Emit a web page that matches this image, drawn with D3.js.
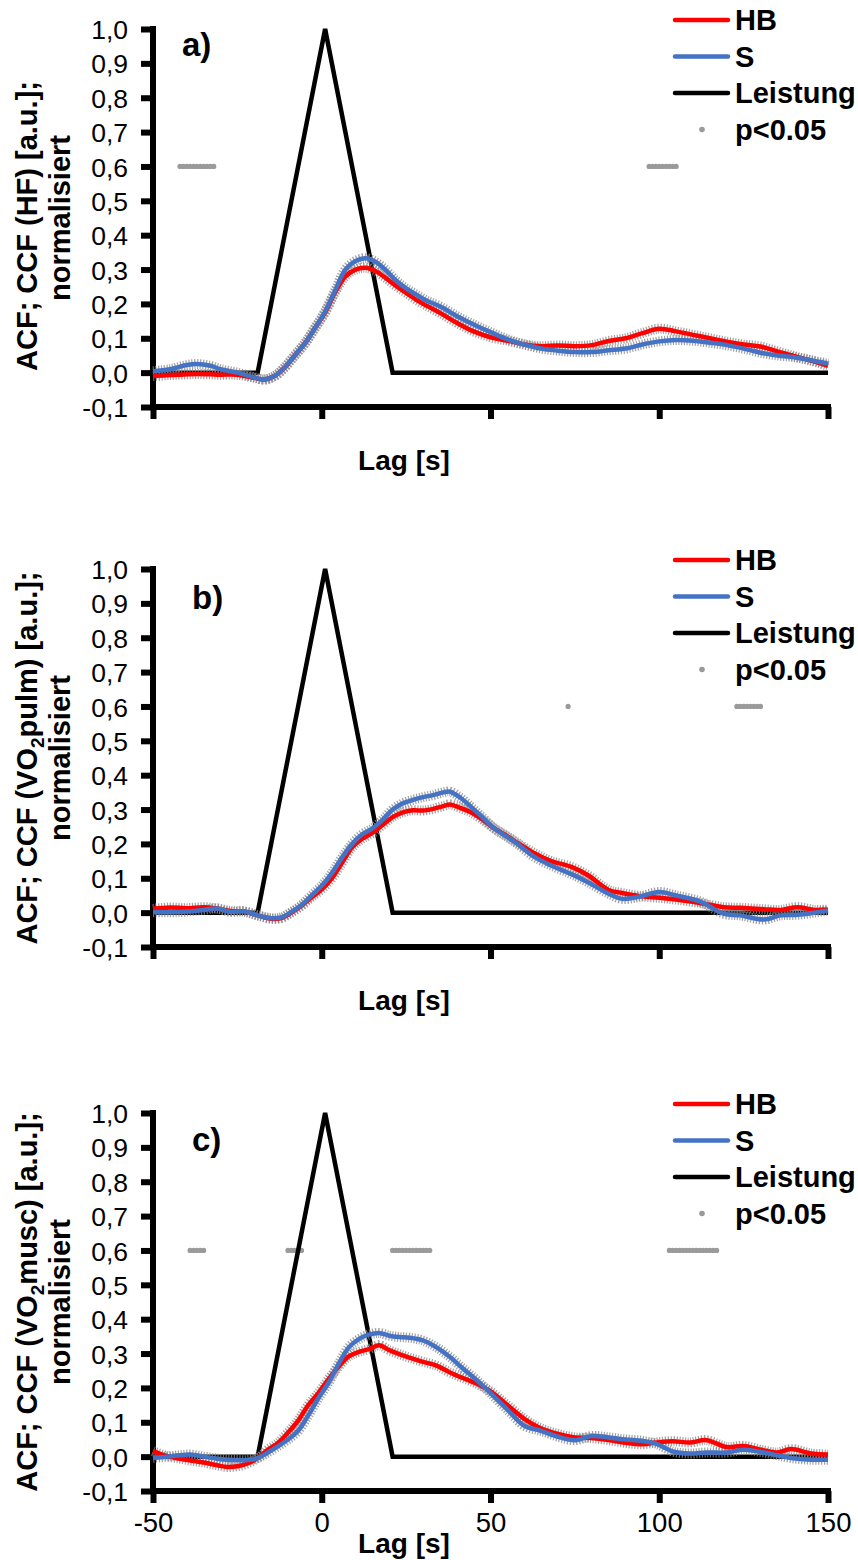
<!DOCTYPE html>
<html>
<head>
<meta charset="utf-8">
<script src="https://cdn.jsdelivr.net/npm/d3@7/dist/d3.min.js"></script>
<style>
  html, body { margin: 0; padding: 0; background: #fff; }
  svg { display: block; }
  text { font-family: "Liberation Sans", Arial, sans-serif; fill: #000; }
</style>
</head>
<body>
<svg id="chart" width="858" height="1560"></svg>
<script>
// ---- shared data ----
const xTicks = [-50, 0, 50, 100, 150];
const yTicks = [-0.1, 0.0, 0.1, 0.2, 0.3, 0.4, 0.5, 0.6, 0.7, 0.8, 0.9, 1.0];
const powerLag = [-50, -19, 1, 21, 150];
const powerVal = [0, 0, 1, 0, 0];
const sigLevel = 0.6;
const legendNames = ["HB", "S", "Leistung", "p<0.05"];

// ---- panel a: HF ----
const lagA = [-50,-45,-40,-37,-33,-30,-25,-20,-17,-14,-11,-8,-5,-2,1,4,7,10,13,16,19,22,25,28,31,35,40,45,50,55,60,65,70,75,80,85,90,95,100,105,110,115,120,125,130,135,140,145,150];
const hbA = [-0.010,-0.007,-0.005,-0.004,-0.005,-0.006,-0.006,-0.015,-0.020,-0.010,0.015,0.050,0.085,0.130,0.175,0.235,0.280,0.300,0.305,0.295,0.275,0.252,0.232,0.212,0.195,0.174,0.145,0.120,0.103,0.093,0.082,0.077,0.079,0.077,0.080,0.092,0.100,0.115,0.128,0.120,0.110,0.100,0.090,0.082,0.076,0.062,0.048,0.035,0.020];
const sA  = [0.004,0.010,0.022,0.025,0.020,0.010,0.000,-0.014,-0.020,-0.010,0.015,0.050,0.085,0.130,0.178,0.240,0.300,0.325,0.333,0.322,0.298,0.268,0.245,0.227,0.210,0.193,0.165,0.140,0.118,0.097,0.082,0.070,0.064,0.060,0.060,0.065,0.070,0.082,0.091,0.095,0.093,0.087,0.080,0.070,0.058,0.050,0.045,0.036,0.026];
const sigA = [-42,-41,-40,-39,-38,-37,-36,-35,-34,-33,-32,97,98,99,100,101,102,103,104,105];

// ---- panel b: VO2pulm ----
const lagB = [-50,-45,-40,-35,-31,-27,-23,-19,-15,-12,-9,-6,-3,0,3,6,9,12,15,18,21,24,27,30,33,36,38,41,44,47,51,55,58,63,68,74,79,85,89,94,100,105,112,119,124,131,136,141,146,150];
const hbB = [0.011,0.015,0.013,0.016,0.012,0.005,0.003,-0.008,-0.018,-0.016,0.000,0.020,0.045,0.068,0.100,0.145,0.190,0.215,0.232,0.255,0.278,0.292,0.298,0.297,0.302,0.310,0.315,0.305,0.293,0.275,0.246,0.222,0.203,0.173,0.150,0.133,0.108,0.066,0.057,0.048,0.043,0.038,0.028,0.016,0.014,0.010,0.008,0.016,0.008,0.009];
const sB  = [0.001,0.001,0.003,0.008,0.012,0.002,0.004,-0.008,-0.016,-0.014,0.002,0.022,0.050,0.078,0.115,0.160,0.200,0.228,0.245,0.270,0.300,0.318,0.328,0.336,0.342,0.350,0.352,0.335,0.310,0.283,0.246,0.220,0.200,0.162,0.137,0.112,0.088,0.055,0.040,0.046,0.060,0.050,0.033,-0.003,-0.008,-0.020,-0.008,-0.006,0.000,0.006];
const sigB = [73,123,124,125,126,127,128,129,130];

// ---- panel c: VO2musc ----
const lagC = [-50,-46,-42,-39,-35,-31,-28,-25,-22,-19,-16,-13,-10,-7,-4,-1,2,5,8,11,14,17,20,23,26,30,34,38,42,46,50,55,60,65,70,75,80,85,90,95,99,104,109,114,120,125,131,135,139,145,150];
const hbC = [0.016,0.002,-0.006,-0.011,-0.017,-0.025,-0.030,-0.028,-0.020,-0.004,0.020,0.040,0.070,0.105,0.150,0.185,0.225,0.262,0.292,0.305,0.313,0.324,0.310,0.298,0.288,0.276,0.265,0.245,0.228,0.212,0.190,0.150,0.110,0.082,0.066,0.056,0.054,0.048,0.040,0.036,0.041,0.045,0.041,0.048,0.028,0.031,0.018,0.012,0.022,0.009,0.006];
const sC  = [-0.004,0.000,0.004,0.006,0.000,-0.006,-0.009,-0.010,-0.010,-0.004,0.012,0.030,0.050,0.075,0.120,0.170,0.215,0.270,0.318,0.342,0.355,0.360,0.352,0.348,0.346,0.338,0.318,0.290,0.255,0.222,0.185,0.137,0.090,0.075,0.058,0.048,0.060,0.056,0.050,0.046,0.038,0.015,0.009,0.012,0.012,0.020,0.012,0.004,-0.004,-0.009,-0.009];
const sigC = [-39,-38,-37,-36,-35,-10,-9,-8,-7,-6,21,22,23,24,25,26,27,28,29,30,31,32,103,104,105,106,107,108,109,110,111,112,113,114,115,116,117];

const panels = [
  { top: 29,   lags: lagA, hb: hbA, s: sA, sig: sigA, label: "a)", labelX: 182, labelY: 56,
    title: ["ACF; CCF (HF) [a.u.];"], titleShift: 8 },
  { top: 569,  lags: lagB, hb: hbB, s: sB, sig: sigB, label: "b)", labelX: 192, labelY: 609,
    title: ["ACF; CCF (VO", "2", "pulm) [a.u.];"], titleShift: 0 },
  { top: 1113, lags: lagC, hb: hbC, s: sC, sig: sigC, label: "c)", labelX: 192, labelY: 1151,
    title: ["ACF; CCF (VO", "2", "musc) [a.u.];"], titleShift: 0 }
];

const colors = { hb: "#ff0000", s: "#4472c4", power: "#000000", sig: "#9a9a9a" };
const svg = d3.select("#chart");
const fmt = v => d3.format(".1f")(v).replace(".", ",").replace("−", "-");

panels.forEach((p, i) => {
  const x = d3.scaleLinear().domain([-50, 150]).range([153, 828]);
  const y = d3.scaleLinear().domain([-0.1, 1.0]).range([p.top + 378, p.top]);
  const g = svg.append("g");

  // y axis
  const yAxis = d3.axisLeft(y).tickValues(yTicks).tickSize(12).tickFormat(fmt).tickSizeOuter(0);
  const ya = g.append("g").attr("transform", `translate(${x(-50)},0)`).call(yAxis);
  ya.select(".domain").attr("stroke", "#000").attr("stroke-width", 6)
    .attr("d", `M0,${y(1.0) - 3}V${y(-0.1) + 3}`);
  ya.selectAll(".tick line").attr("stroke", "#000").attr("stroke-width", 6);
  ya.selectAll(".tick text").attr("x", -25).attr("font-size", 26.5).attr("dy", "0.36em");

  // x axis (numbers only under the bottom panel)
  const xAxis = d3.axisBottom(x).tickValues(xTicks).tickSize(12).tickSizeOuter(0)
    .tickFormat(i === 2 ? d3.format("d") : () => "");
  const xa = g.append("g").attr("transform", `translate(0,${y(-0.1)})`).call(xAxis);
  xa.select(".domain").attr("stroke", "#000").attr("stroke-width", 6)
    .attr("d", `M${x(-50) - 3},0H${x(150) + 3}`);
  xa.selectAll(".tick line").attr("stroke", "#000").attr("stroke-width", 6).attr("y1", 0);
  xa.selectAll(".tick text").attr("font-size", 27.5).attr("y", 21).attr("dy", "0.71em")
    .text(d => i === 2 ? String(d).replace("−", "-") : "");

  // x title
  g.append("text").attr("x", 404).attr("y", i === 2 ? 1553 : y(-0.1) + 63)
    .attr("text-anchor", "middle").attr("font-size", 28).attr("font-weight", "bold")
    .text("Lag [s]");

  // y title (two lines, rotated)
  const cy = (y(1.0) + y(-0.1)) / 2;
  const t1 = g.append("text").attr("transform", `translate(37,${cy + p.titleShift}) rotate(-90)`)
    .attr("text-anchor", "middle").attr("font-size", 29).attr("font-weight", "bold");
  if (p.title.length === 1) {
    t1.text(p.title[0]);
  } else {
    t1.append("tspan").text(p.title[0]);
    t1.append("tspan").attr("font-size", 19).attr("dy", 7).text(p.title[1]);
    t1.append("tspan").attr("dy", -7).text(p.title[2]);
  }
  g.append("text").attr("transform", `translate(70,${cy}) rotate(-90)`)
    .attr("text-anchor", "middle").attr("font-size", 29).attr("font-weight", "bold")
    .text("normalisiert");

  // panel label
  g.append("text").attr("x", p.labelX).attr("y", p.labelY)
    .attr("font-size", 33).attr("font-weight", "bold").text(p.label);

  // significance markers
  g.append("g").selectAll("circle").data(p.sig).join("circle")
    .attr("cx", d => x(d)).attr("cy", y(sigLevel)).attr("r", 2.6).attr("fill", colors.sig);

  const line = d3.line().x(d => x(d[0])).y(d => y(d[1])).curve(d3.curveCatmullRom);
  const hbPts = p.lags.map((l, k) => [l, p.hb[k]]);
  const sPts = p.lags.map((l, k) => [l, p.s[k]]);

  // power input (triangle)
  g.append("path").datum(powerLag.map((l, k) => [l, powerVal[k]]))
    .attr("d", d3.line().x(d => x(d[0])).y(d => y(d[1])))
    .attr("fill", "none").attr("stroke", colors.power).attr("stroke-width", 4.5)
    .attr("stroke-linejoin", "miter");

  // error whiskers shown as a fine grey texture around each curve
  [hbPts, sPts].forEach(pts => {
    g.append("path").datum(pts).attr("d", line).attr("fill", "none")
      .attr("stroke", "#8a8a8a").attr("stroke-width", 10).attr("stroke-dasharray", "1.2 1.6")
      .attr("opacity", 0.8);
  });
  g.append("path").datum(hbPts).attr("d", line).attr("fill", "none")
    .attr("stroke", colors.hb).attr("stroke-width", 4.5);
  g.append("path").datum(sPts).attr("d", line).attr("fill", "none")
    .attr("stroke", colors.s).attr("stroke-width", 4.5);

  // legend
  const ly = p.top - 9;
  const lg = g.append("g").attr("transform", `translate(0,${ly})`);
  const legendColors = [colors.hb, colors.s, colors.power];
  legendNames.forEach((name, k) => {
    const yy = k * 36.5;
    if (k < 3) {
      lg.append("line").attr("x1", 675).attr("x2", 728).attr("y1", yy).attr("y2", yy)
        .attr("stroke", legendColors[k]).attr("stroke-width", 4.5).attr("stroke-linecap", "round");
    } else {
      lg.append("circle").attr("cx", 702).attr("cy", yy).attr("r", 2.8).attr("fill", colors.sig);
    }
    lg.append("text").attr("x", 735).attr("y", yy).attr("dy", "0.36em")
      .attr("font-size", 29).attr("font-weight", "bold").text(name);
  });
});
</script>
</body>
</html>
